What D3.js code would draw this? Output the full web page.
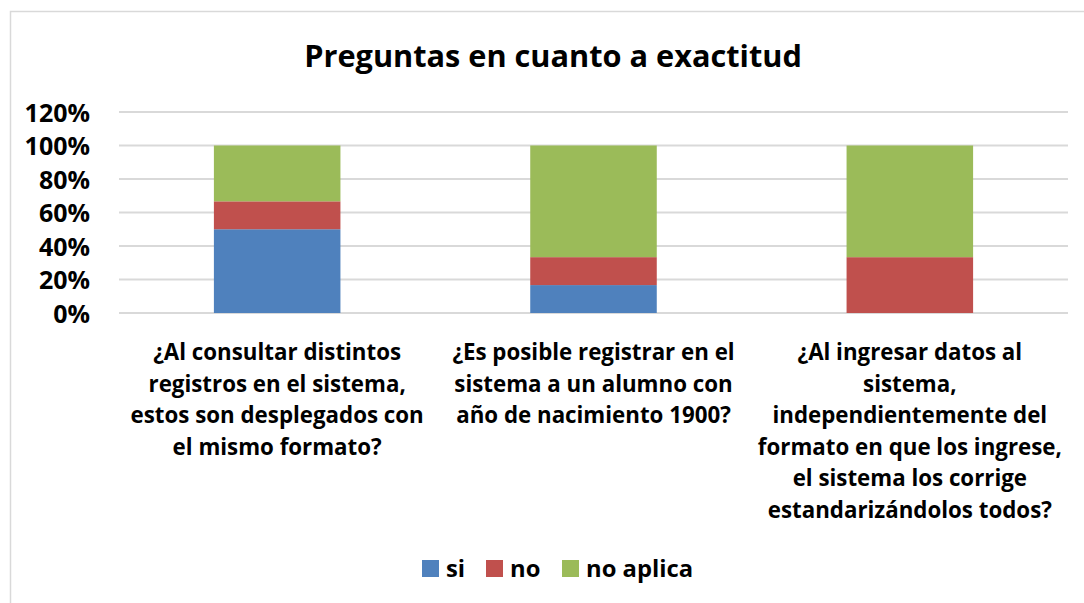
<!DOCTYPE html>
<html><head><meta charset="utf-8">
<script src="https://cdn.jsdelivr.net/npm/d3@7"></script>
<style>body{margin:0;background:#fff}svg{display:block}text{font-family:"Open Sans",Lato,sans-serif;font-weight:bold;fill:#000}</style>
</head><body>
<svg id="c" width="1084" height="603"></svg>
<script>
const title = "Preguntas en cuanto a exactitud";
const categories = [
  ["¿Al consultar distintos","registros en el sistema,","estos son desplegados con","el mismo formato?"],
  ["¿Es posible registrar en el","sistema a un alumno con","año de nacimiento 1900?"],
  ["¿Al ingresar datos al","sistema,","independientemente del","formato en que los ingrese,","el sistema los corrige","estandarizándolos todos?"]
];
const seriesNames = ["si","no","no aplica"];
const si = [0.5, 0.1667, 0];
const no = [0.1667, 0.1667, 0.3333];
const noAplica = [0.3333, 0.6667, 0.6667];
const colors = ["#4F81BD","#C0504D","#9BBB59"];
const yTicks = [0,0.2,0.4,0.6,0.8,1.0,1.2];

(function(){
const svg = d3.select("#c");
svg.append("rect").attr("x",10.5).attr("y",11.5).attr("width",1090).attr("height",600)
  .attr("fill","#fff").attr("stroke","#d9d9d9").attr("stroke-width",1.5);

svg.append("text").attr("x",553).attr("y",67).attr("text-anchor","middle")
  .style("font-size","30.7px").text(title);

const pl=119, pr=1068, pt=112, pb=313;
const x = d3.scaleBand().domain(d3.range(categories.length)).range([pl,pr]).paddingInner(0.6).paddingOuter(0.3);
const y = d3.scaleLinear().domain([0,1.2]).range([pb,pt]);

const grid = svg.append("g");
grid.selectAll("line").data(yTicks).join("line")
  .attr("x1",pl).attr("x2",pr).attr("y1",d=>y(d)).attr("y2",d=>y(d))
  .attr("stroke","#d9d9d9").attr("stroke-width",2);

const yAxis = svg.append("g").attr("transform",`translate(${pl},0)`)
  .call(d3.axisLeft(y).tickValues(yTicks).tickFormat(d3.format(".0%")).tickSize(0).tickPadding(29));
yAxis.select(".domain").remove();
yAxis.selectAll("text").style("font-size","25px").style("font-family","'Open Sans'").attr("dy","0.36em");

const rows = categories.map((c,i)=>({i, si:si[i], no:no[i], "no aplica":noAplica[i]}));
const stack = d3.stack().keys(seriesNames)(rows);
svg.append("g").selectAll("g").data(stack).join("g").attr("fill",(d,i)=>colors[i])
  .selectAll("rect").data(d=>d).join("rect")
  .attr("x",d=>x(d.data.i)).attr("width",x.bandwidth())
  .attr("y",d=>y(d[1])).attr("height",d=>y(d[0])-y(d[1]));

const cl = svg.append("g");
categories.forEach((lines,i)=>{
  const t = cl.append("text").attr("text-anchor","middle").style("font-size","22.3px");
  lines.forEach((ln,j)=>{
    t.append("tspan").attr("x",x(i)+x.bandwidth()/2).attr("y",360+j*31.6).text(ln);
  });
});

const legX = [422, 486, 562];
const lg = svg.append("g");
seriesNames.forEach((n,i)=>{
  lg.append("rect").attr("x",legX[i]).attr("y",560).attr("width",17).attr("height",17).attr("fill",colors[i]);
  lg.append("text").attr("x",legX[i]+24).attr("y",577).style("font-size","23.8px").text(n);
});
})();
</script>
</body></html>
